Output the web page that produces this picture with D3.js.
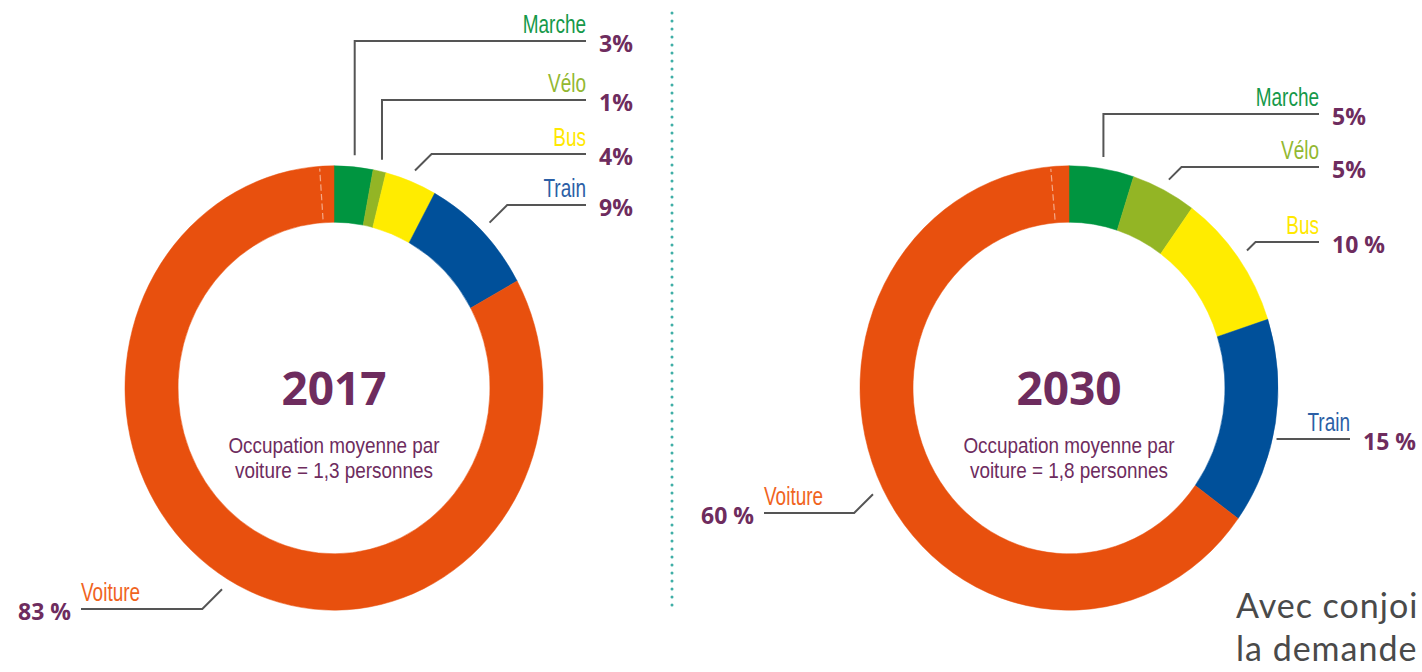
<!DOCTYPE html>
<html><head><meta charset="utf-8">
<script src="https://cdn.jsdelivr.net/npm/d3@7"></script>
<style>
html,body{margin:0;padding:0;background:#fff;overflow:hidden}
svg{display:block}
</style></head>
<body>
<svg id="chart" width="1422" height="672"></svg>
<script>
// ---- data ----
const categories = ["Marche", "Vélo", "Bus", "Train", "Voiture"];
const shares2017 = [3, 1, 4, 9, 83];
const labels2017 = ["3%", "1%", "4%", "9%", "83 %"];
const shares2030 = [5, 5, 10, 15, 65];
const labels2030 = ["5%", "5%", "10 %", "15 %", "60 %"];
const years = ["2017", "2030"];
const subtitles1 = ["Occupation moyenne par", "Occupation moyenne par"];
const subtitles2 = ["voiture = 1,3 personnes", "voiture = 1,8 personnes"];
const footerLines = ["Avec conjoi", "la demande"];

// ---- styles ----
const segColors = ["#009540", "#93B525", "#FFEC00", "#00509A", "#E8500E"];
const labelColors = ["#16994A", "#93B832", "#FFE800", "#2C5FA6", "#F0641E"];
const purple = "#6E2C5E";
const condensed = "'Liberation Sans','Arial',sans-serif";
const pctFont = "'Open Sans','Lato',sans-serif";

const svg = d3.select("#chart");
const outerR = 209, innerR = 156, yStretch = 1.063;

// condensed text helper (horizontal squeeze)
function squeezed(parent, txt, x, y, anchor, size, sx, color) {
  return parent.append("text").text(txt)
    .attr("transform", `translate(${x},${y}) scale(${sx},1)`)
    .attr("text-anchor", anchor).attr("fill", color)
    .style("font-family", condensed).style("font-size", size + "px");
}

// layout per chart: type v = vertical then horizontal; d = 45° diagonal then horizontal; h = horizontal only
const layouts = [
  { cx: 334, cy: 388, seam: -0.011, labels: [
    { type: "v", lineY: 41, end: 586, side: "r" },
    { type: "v", lineY: 100, end: 586, side: "r" },
    { type: "d", lineY: 154, end: 586, side: "r" },
    { type: "d", lineY: 205, end: 586, side: "r" },
    { type: "d", lineY: 609, end: 81, side: "l" }
  ]},
  { cx: 1069, cy: 388, seam: -0.014, labels: [
    { type: "v", lineY: 114, end: 1319, side: "r" },
    { type: "d", lineY: 167, end: 1319, side: "r" },
    { type: "d", lineY: 242, end: 1319, side: "r" },
    { type: "h", lineY: 439, end: 1350, side: "r" },
    { type: "d", lineY: 513, end: 764, side: "l" }
  ]}
];

const allShares = [shares2017, shares2030];
const allLabels = [labels2017, labels2030];

const pie = d3.pie().sort(null).value(d => d);
const arc = d3.arc().innerRadius(innerR).outerRadius(outerR);

// separator
svg.append("line")
  .attr("x1", 672).attr("x2", 672).attr("y1", 13).attr("y2", 610)
  .attr("stroke", "#3FAEA6").attr("stroke-width", 3)
  .attr("stroke-linecap", "round").attr("stroke-dasharray", "0 8");

allShares.forEach((shares, ci) => {
  const L = layouts[ci];
  const g = svg.append("g").attr("transform", `translate(${L.cx},${L.cy})`);
  const ring = g.append("g").attr("transform", `scale(1,${yStretch})`);
  const arcs = pie(shares);
  ring.selectAll("path").data(arcs).enter().append("path")
    .attr("d", arc).attr("fill", (d, i) => segColors[i])
    .attr("stroke", (d, i) => segColors[i]).attr("stroke-width", 0.5);

  // faint seam inside the orange ring
  const sa = 2 * Math.PI * (1 + L.seam);
  ring.append("line")
    .attr("x1", Math.sin(sa) * (innerR + 3)).attr("y1", -Math.cos(sa) * (innerR + 3))
    .attr("x2", Math.sin(sa) * (outerR - 2)).attr("y2", -Math.cos(sa) * (outerR - 2))
    .attr("stroke", "#fff").attr("stroke-opacity", 0.5).attr("stroke-width", 1.2)
    .attr("stroke-dasharray", "6 3");

  // centre text
  g.append("text").text(years[ci]).attr("x", 0).attr("y", 17)
    .attr("text-anchor", "middle").attr("fill", purple)
    .style("font-family", pctFont).style("font-weight", 700).style("font-size", "46px");
  squeezed(g, subtitles1[ci], 0, 65, "middle", 22, 0.86, purple);
  squeezed(g, subtitles2[ci], 0, 90, "middle", 22, 0.86, purple);

  // leaders & labels
  const rLead = 220;
  arcs.forEach((a, i) => {
    const lab = L.labels[i];
    const mid = (a.startAngle + a.endAngle) / 2;
    let sx = L.cx + Math.sin(mid) * rLead;
    let sy = L.cy - Math.cos(mid) * rLead * yStretch;
    let pts;
    if (lab.type === "v") {
      pts = [[sx, sy], [sx, lab.lineY], [lab.end, lab.lineY]];
    } else if (lab.type === "d") {
      const dir = lab.side === "r" ? 1 : -1;
      const ex = sx + dir * Math.abs(sy - lab.lineY);
      pts = [[sx, sy], [ex, lab.lineY], [lab.end, lab.lineY]];
    } else {
      const dy = (lab.lineY - L.cy) / yStretch;
      sx = L.cx + Math.sqrt(Math.max(0, (outerR + 4) ** 2 - dy * dy));
      pts = [[sx, lab.lineY], [lab.end, lab.lineY]];
    }
    svg.append("path").attr("d", d3.line()(pts))
      .attr("fill", "none").attr("stroke", "#555").attr("stroke-width", 2);

    const right = lab.side === "r";
    squeezed(svg, categories[i], lab.end, lab.lineY - 8, right ? "end" : "start", 25, 0.76, labelColors[i]);
    svg.append("text").text(allLabels[ci][i])
      .attr("x", right ? lab.end + 13 : lab.end - 10).attr("y", lab.lineY + 11)
      .attr("text-anchor", right ? "start" : "end")
      .attr("fill", purple)
      .style("font-family", pctFont).style("font-weight", 700).style("font-size", "23px");
  });
});

// footer paragraph (cut by the frame)
footerLines.forEach((t, i) => {
  svg.append("text").text(t).attr("x", 1236).attr("y", 618 + i * 43)
    .attr("fill", "#4a4a4a")
    .style("font-family", "'Lato','Open Sans',sans-serif").style("font-size", "34px")
    .style("letter-spacing", "1px");
});
</script>
</body></html>
